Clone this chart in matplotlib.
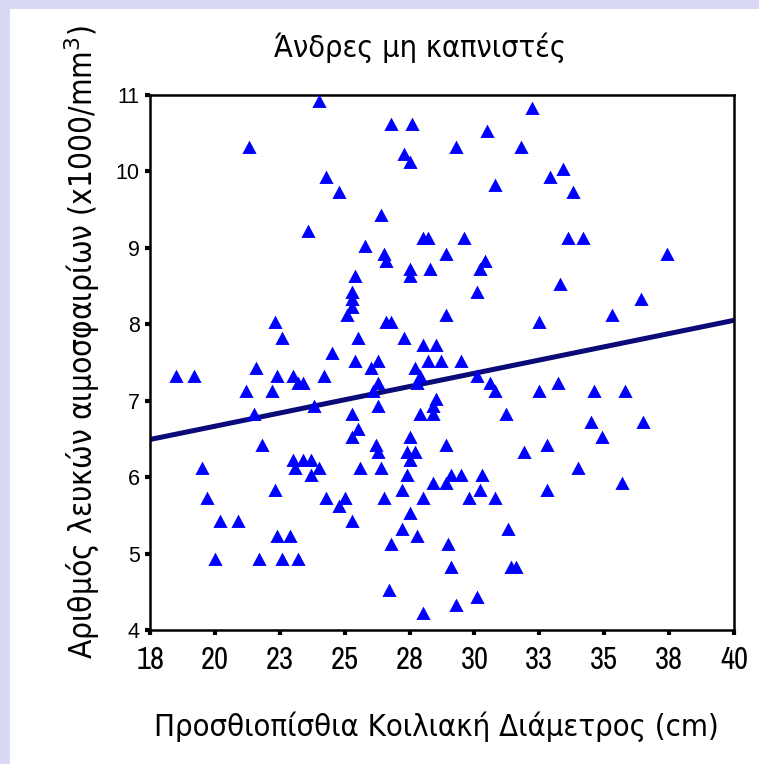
import matplotlib
matplotlib.use("Agg")
import matplotlib.pyplot as plt
from matplotlib.path import Path
from matplotlib.patches import Rectangle
import numpy as np

# Anterior-posterior abdominal diameter (cm) and white blood cell count (x1000/mm^3)
diameter = [
    18.5, 19.2, 19.5, 19.7, 20.0, 20.2, 20.9, 21.3, 21.2, 21.5, 21.6, 21.7, 21.8, 22.2,
    22.3, 22.3, 22.4, 22.4, 22.6, 22.6, 22.9, 23.0, 23.0, 23.1, 23.2, 23.2, 23.4, 23.4,
    23.6, 23.7, 23.7, 23.8, 24.0, 24.0, 24.2, 24.3, 24.3, 24.5, 24.8, 24.8, 25.0, 25.1,
    25.3, 25.3, 25.3, 25.4, 25.4, 25.5, 25.3, 25.3, 25.5, 25.3, 25.6, 25.8, 26.0,
    26.1, 26.3, 26.3, 26.3, 26.2, 26.3, 26.4, 26.4, 26.5, 26.5, 26.6, 26.6, 26.8, 26.7,
    26.8, 27.2, 27.2, 26.8, 27.3, 27.3, 27.4, 27.4, 27.5, 27.5, 27.5, 27.5, 27.5, 27.5,
    27.6, 27.7, 27.7, 27.8, 27.8, 27.9, 27.9, 28.0, 28.2, 28.0, 28.0, 28.0, 28.2, 28.3,
    28.4, 28.4, 28.4, 28.5, 28.5, 28.7, 28.9, 28.9, 28.9, 28.9, 29.0, 29.1, 29.1, 29.3,
    29.3, 29.5, 29.5, 29.6, 29.8, 30.1, 30.1, 30.1, 30.2, 30.2, 30.3, 30.4, 30.5, 30.6,
    30.8, 30.8, 30.8, 31.2, 31.3, 31.4, 31.6, 31.8, 31.9, 32.2,
    32.5, 32.5, 32.8, 32.8, 32.9, 33.2, 33.3, 33.4, 33.6, 34.2, 33.8, 34.0, 34.5, 34.6,
    34.9, 35.3, 35.7, 35.8, 36.4, 36.5, 37.4,
]
wbc = [
    7.3, 7.3, 6.1, 5.7, 4.9, 5.4, 5.4, 10.3, 7.1, 6.8, 7.4, 4.9, 6.4, 7.1,
    5.8, 8.0, 5.2, 7.3, 7.8, 4.9, 5.2, 7.3, 6.2, 6.1, 7.2, 4.9, 7.2, 6.2,
    9.2, 6.2, 6.0, 6.9, 10.9, 6.1, 7.3, 5.7, 9.9, 7.6, 9.7, 5.6, 5.7, 8.1,
    8.2, 8.3, 8.4, 8.6, 7.5, 7.8, 6.8, 6.5, 6.6, 5.4, 6.1, 9.0, 7.4,
    7.1, 7.2, 7.5, 6.9, 6.4, 6.3, 9.4, 6.1, 8.9, 5.7, 8.8, 8.0, 8.0, 4.5,
    5.1, 5.8, 5.3, 10.6, 10.2, 7.8, 6.3, 6.0, 10.1, 8.7, 8.6, 6.5, 6.2, 5.5,
    10.6, 6.3, 7.4, 7.2, 5.2, 7.3, 6.8, 9.1, 9.1, 7.7, 5.7, 4.2, 7.5, 8.7,
    6.9, 6.8, 5.9, 7.7, 7.0, 7.5, 8.9, 8.1, 6.4, 5.9, 5.1, 6.0, 4.8, 10.3,
    4.3, 7.5, 6.0, 9.1, 5.7, 4.4, 8.4, 7.3, 8.7, 5.8, 6.0, 8.8, 10.5, 7.2,
    9.8, 7.1, 5.7, 6.8, 5.3, 4.8, 4.8, 10.3, 6.3, 10.8,
    8.0, 7.1, 6.4, 5.8, 9.9, 7.2, 8.5, 10.0, 9.1, 9.1, 9.7, 6.1, 6.7, 7.1,
    6.5, 8.1, 5.9, 7.1, 8.3, 6.7, 8.9,
]

# Linear fit line: intercept and slope
fit_intercept = 5.28
fit_slope = 0.0693

x_ticks = [17.5, 20.0, 22.5, 25.0, 27.5, 30.0, 32.5, 35.0, 37.5, 40.0]
x_tick_labels = ["18", "20", "23", "25", "28", "30", "33", "35", "38", "40"]
y_ticks = [4, 5, 6, 7, 8, 9, 10, 11]

title = "Άνδρες μη καπνιστές"
x_label = "Προσθιοπίσθια Κοιλιακή Διάμετρος (cm)"
y_label = "Αριθμός λευκών αιμοσφαιρίων (x1000/mm$^{3}$)"

plt.rcParams["mathtext.fontset"] = "dejavusans"

W, H = 759, 764
fig = plt.figure(figsize=(W / 100, H / 100), dpi=100)
fig.patch.set_facecolor("#d9d9f6")
fig.patches.append(Rectangle((10 / W, 0), 1, 1 - 9 / H, transform=fig.transFigure,
                             facecolor="white", edgecolor="none", zorder=-10))

ax = fig.add_axes([150 / W, 1 - 630 / H, (734 - 150) / W, (630 - 95) / H])
ax.set_facecolor("white")
ax.set_xlim(17.5, 40)
ax.set_ylim(4, 11)

# triangle marker centred on its centroid
tri = Path([(0, 1), (-0.8, -0.5), (0.8, -0.5), (0, 1)],
           [Path.MOVETO, Path.LINETO, Path.LINETO, Path.CLOSEPOLY])

xl = np.array(ax.get_xlim())
ax.plot(xl, fit_intercept + fit_slope * xl, color="#0a0a78", lw=3.6,
        solid_capstyle="butt", zorder=2)
ax.plot(diameter, wbc, linestyle="none", marker=tri, ms=12.8, color="#0000ff",
        mec="none", zorder=3, clip_on=False)

for s in ax.spines.values():
    s.set_linewidth(1.8)
    s.set_color("black")

ax.set_xticks(x_ticks)
ax.set_xticklabels(x_tick_labels, family=["Archivo Narrow", "PT Sans Narrow", "DejaVu Sans"],
                   fontsize=22)
ax.set_yticks(y_ticks)
ax.set_yticklabels([str(v) for v in y_ticks], family=["Liberation Sans", "DejaVu Sans"],
                   fontsize=15.5)
ax.tick_params(axis="both", direction="out", length=3.5, width=3, color="black")
ax.tick_params(axis="x", pad=8)
ax.tick_params(axis="y", pad=4)

label_font = dict(family="DejaVu Sans", stretch="condensed")
fig.text(420 / W, 1 - 48 / H, title, ha="center", va="center", fontsize=22, **label_font)
fig.text(436 / W, 1 - 727 / H, x_label, ha="center", va="center", fontsize=22.2, **label_font)
fig.text(82 / W, 1 - 342 / H, y_label, ha="center", va="center", fontsize=22.7,
         rotation=90, **label_font)

fig.savefig("out.png", dpi=100, facecolor=fig.get_facecolor())
